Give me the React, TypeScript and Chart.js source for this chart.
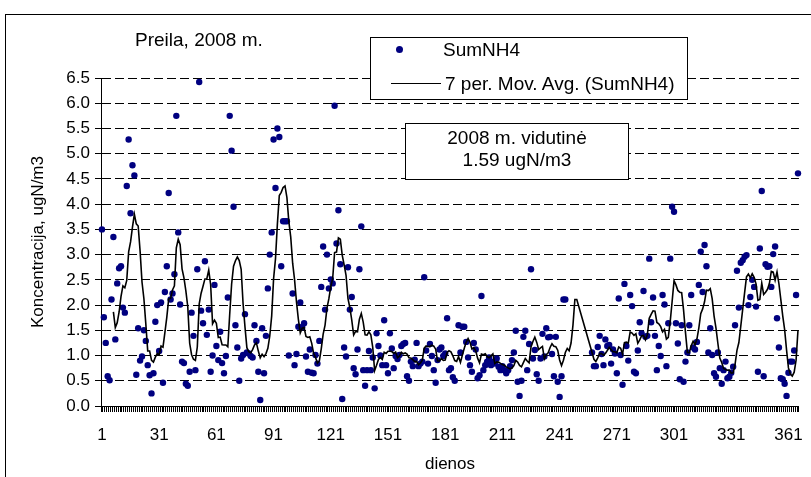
import React, { useEffect, useRef } from "react";
import { Chart, registerables } from "chart.js";

Chart.register(...registerables);

// Daily SumNH4 concentration, ugN/m3 (Preila, 2008); null = no measurement
const jan = [3.5, 1.76, 1.25, 0.59, 0.51, 2.11, 3.35, 1.32, 2.43, 2.73, 2.77, 1.95, 1.85, 4.36, 5.28, 3.82, 4.77, 4.57, 0.62, 1.54, 0.9, 0.98, 1.5, 1.29, 0.81, 0.61, 0.25, 0.65, 1.67, 2.0, 1.09];
const feb = [2.05, 0.46, 2.26, 2.77, 4.22, 2.11, 2.23, 2.61, 5.75, 3.44, 2.01, 0.88, 0.85, 0.44, 0.4, 0.68, 1.85, 1.39, 0.71, 2.71, 6.42, 1.89, 1.64, 2.87, 1.41, 1.91, 0.68, 1.0, 2.4];
const mar = [1.19, 0.91, 1.47, 0.85, 0.65, 0.99, 2.15, 5.75, 5.06, 3.95, 1.6, 1.16, 0.5, 0.94, 1.01, 1.82, 1.06, 1.04, 0.99, 0.96, 1.6, 1.29, 0.68, 0.12, 1.54, 0.65, 1.39, 2.33, 3.0, 3.44, 5.28];
const apr = [4.32, 5.5, 5.33, 2.77, 3.66, 3.66, 3.66, 1.0, null, 2.23, 0.81, 1.03, 1.57, 2.05, 1.56, 1.64, 0.98, 0.68, 1.12, 0.66, 0.65, 1.01, 0.84, 1.29, 2.36, 3.16, 1.91, 3.0, 2.33, 2.51];
const may = [2.43, 5.95, 3.22, 3.88, 2.81, 0.14, 1.16, 0.98, 2.75, 1.91, 2.16, 0.75, 0.63, 1.12, 2.71, 3.56, 0.71, 0.4, 0.71, 1.09, 0.71, 0.96, 0.35, 1.44, 1.19, 1.0, 0.81, 1.7, 0.81, 0.65, 1.44];
const jun = [1.14, 0.75, 0.99, 0.93, 1.01, 1.19, 1.23, 1.25, 0.59, 0.5, 0.88, 0.79, 0.92, 1.25, 0.79, 0.84, 0.88, 2.55, 1.1, 0.84, 1.23, 0.99, 0.71, 0.46, 0.91, 1.12, 1.16, 0.99, 1.04, 1.74];
const jul = [0.71, 0.75, 0.57, 0.5, null, 1.6, 1.06, 1.57, 1.57, 1.27, 0.96, 0.81, 0.68, 1.25, 1.12, 0.55, 0.61, 2.18, 0.71, 0.81, 0.88, 0.96, 0.81, 0.88, 0.84, 0.94, 0.78, 0.71, 0.79, 0.71, 0.65];
const aug = [0.71, 0.79, 0.91, 1.06, 1.49, 0.48, 0.2, 0.5, 1.37, 1.49, 0.71, 1.23, 2.71, 0.94, 1.11, 0.63, 0.5, 0.94, 1.43, 0.98, 1.54, 1.36, 1.37, 1.03, 0.59, 1.37, 0.48, 0.18, 0.59, 2.11, 2.11];
const sep = [null, null, null, null, null, null, null, null, null, null, null, null, null, 1.06, 0.79, 0.79, 1.17, 1.39, 1.03, 0.81, 1.32, 1.19, 1.21, 0.84, 1.12, 1.04, 0.65, 2.13, 1.01, 0.42];
const oct = [2.42, 1.19, 0.9, 2.2, 1.98, 0.68, 0.65, 1.1, 1.66, 1.44, 2.28, 1.37, 1.39, 2.92, 1.66, 2.15, 1.39, 0.71, 1.19, 0.99, 2.2, 2.01, 0.79, 1.64, 2.92, 3.95, 3.85, 1.64, 1.24, 0.53, 1.6];
const nov = [0.48, 0.88, 1.06, 1.6, 2.2, 1.16, 1.12, 1.27, 2.4, 3.06, 2.26, 3.19, 2.77, 1.06, 1.54, 1.01, 0.65, 0.58, 1.06, 0.75, 0.44, 0.71, 0.88, 0.55, 0.58, 0.66, 0.78, 1.6, 2.68, 1.95];
const dec = [2.84, 2.89, 2.96, 2.99, 2.0, 2.16, 2.5, 2.36, 1.97, 0.68, 3.12, 4.26, 0.59, 2.81, 2.76, 2.77, 2.36, 3.01, 3.16, 1.74, 1.16, 0.55, 0.53, 0.44, 0.2, 0.66, 0.88, 0.88, 1.1, 2.2, 4.61];

const sumNH4: (number | null)[] = [jan, feb, mar, apr, may, jun, jul, aug, sep, oct, nov, dec].flat();
const dayLabels = sumNH4.map((_, i) => String(i + 1));
const labelEvery = 30;
const maPeriod = 7;
const yMin = 0;
const yMax = 6.5;
const yStep = 0.5;

const seriesName = "SumNH4";
const trendName = "7 per. Mov. Avg. (SumNH4)";
const chartTitle = "Preila, 2008 m.";
const noteLine1 = "2008 m. vidutinė";
const noteLine2 = "1.59 ugN/m3";
const yTitle = "Koncentracija, ugN/m3";
const xTitle = "dienos";

function movingAverage(vals: (number | null)[], period: number) {
  return vals.map((_, i) => {
    if (i < period - 1) return null;
    const w = vals.slice(i - period + 1, i + 1).filter((v) => v != null) as number[];
    if (!w.length) return null;
    return w.reduce((a, b) => a + b, 0) / w.length;
  });
}

const FONT = "'Liberation Sans', Arial, sans-serif";

export default function App() {
  const ref = useRef<HTMLCanvasElement>(null);

  useEffect(() => {
    document.body.style.margin = "0";
    const canvas = ref.current;
    if (!canvas) return;
    const ma = movingAverage(sumNH4, maPeriod);
    const chart = new Chart(canvas, {
      type: "line",
      data: {
        labels: dayLabels,
        datasets: [
          {
            label: trendName,
            data: ma,
            borderColor: "#000000",
            borderWidth: 1.6,
            pointRadius: 0,
            spanGaps: true,
            tension: 0,
            order: 0,
          },
          {
            label: seriesName,
            data: sumNH4,
            showLine: false,
            pointRadius: 3.2,
            pointBackgroundColor: "#000080",
            pointBorderColor: "#000080",
            pointBorderWidth: 0,
            order: 1,
          },
        ],
      },
      options: {
        animation: false,
        responsive: false,
        layout: { padding: { top: 78, right: 11, left: 0, bottom: 0 } },
        plugins: { legend: { display: false }, tooltip: { enabled: false } },
        scales: {
          x: {
            type: "category",
            offset: true,
            grid: {
              display: true,
              drawOnChartArea: false,
              offset: true,
              tickLength: 6,
              color: "#000000",
            },
            border: { display: true, color: "#000000", width: 1 },
            ticks: {
              autoSkip: false,
              maxRotation: 0,
              minRotation: 0,
              padding: 13,
              color: "#000000",
              font: { family: FONT, size: 17 },
              callback: (_v: any, i: number) => (i % labelEvery === 0 ? dayLabels[i] : ""),
            },
            title: {
              display: true,
              text: xTitle,
              color: "#000000",
              font: { family: FONT, size: 17 },
              padding: { top: 0, bottom: 2 },
            },
            afterFit: (s: any) => {
              s.height = 71;
            },
          },
          y: {
            min: yMin,
            max: yMax,
            ticks: {
              stepSize: yStep,
              padding: 5,
              color: "#000000",
              font: { family: FONT, size: 17 },
              callback: (v: any) => Number(v).toFixed(1),
            },
            grid: { color: "#000000", tickLength: 6, lineWidth: 1 },
            border: { display: true, color: "#000000", width: 1, dash: [9, 4] },
            title: {
              display: true,
              text: yTitle,
              color: "#000000",
              font: { family: FONT, size: 17 },
              padding: { top: 28, bottom: 0 },
            },
            afterFit: (s: any) => {
              s.width = 101;
            },
          },
        },
      },
    });
    return () => chart.destroy();
  }, []);

  const txt: React.CSSProperties = { position: "absolute", fontFamily: FONT, fontSize: 19, color: "#000", whiteSpace: "nowrap", lineHeight: "22px" };

  return (
    <div style={{ position: "relative", width: 811, height: 477, overflow: "hidden", background: "#fff" }}>
      <canvas ref={ref} width={811} height={477} style={{ position: "absolute", left: 0, top: 0, display: "block" }} />
      <div style={{ position: "absolute", left: 5, top: 14, width: 900, height: 600, borderLeft: "1px solid #000", borderTop: "1px solid #000", pointerEvents: "none" }} />
      <div style={{ ...txt, left: 135, top: 29 }}>{chartTitle}</div>
      <div style={{ position: "absolute", left: 370, top: 37, width: 318, height: 63, border: "1px solid #000", background: "#fff", boxSizing: "border-box" }}>
        <div style={{ position: "absolute", left: 25, top: 8, width: 7, height: 7, borderRadius: "50%", background: "#000080" }} />
        <div style={{ ...txt, left: 72, top: 1 }}>{seriesName}</div>
        <div style={{ position: "absolute", left: 20, top: 45, width: 50, height: 0, borderTop: "1.6px solid #000" }} />
        <div style={{ ...txt, left: 74, top: 35 }}>{trendName}</div>
      </div>
      <div style={{ position: "absolute", left: 405, top: 123, width: 224, height: 57, border: "1px solid #000", background: "#fff", boxSizing: "border-box", textAlign: "center" }}>
        <div style={{ ...txt, position: "relative", top: 3 }}>{noteLine1}</div>
        <div style={{ ...txt, position: "relative", top: 3 }}>{noteLine2}</div>
      </div>
    </div>
  );
}
